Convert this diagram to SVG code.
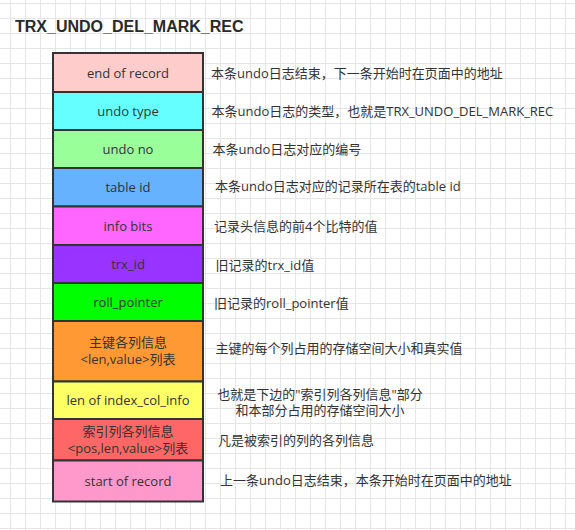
<svg xmlns="http://www.w3.org/2000/svg" width="575" height="530" viewBox="0 0 575 530">
<defs>
<pattern id="grid" patternUnits="userSpaceOnUse" x="10" y="3" width="15" height="15">
<path d="M0 0.5 H15 M0.5 0 V15" fill="none" stroke="#e6e6e6" stroke-width="1"/>
</pattern>
</defs>
<style>
text{font-family:"Open Sans","Noto Sans CJK SC",sans-serif;font-size:13px;fill:#333}
.lbl{text-anchor:middle}
.title{font-family:"Liberation Sans","Noto Sans CJK SC",sans-serif;font-size:16px;font-weight:bold;fill:#2a2a2a}
.cell{stroke:#333;stroke-width:2}
</style>
<rect width="575" height="530" fill="#fff"/>
<rect width="575" height="530" fill="url(#grid)"/>
<text class="title" x="15" y="32">TRX_UNDO_DEL_MARK_REC</text>
<g id="end-of-record"><rect class="cell" x="53" y="53" width="150" height="39" fill="#FFCCCC"/><text class="lbl" x="128" y="77.5">end of record</text></g>
<g id="undo-type"><rect class="cell" x="53" y="92" width="150" height="38" fill="#66FFFF"/><text class="lbl" x="128" y="115.5">undo type</text></g>
<g id="undo-no"><rect class="cell" x="53" y="130" width="150" height="38" fill="#99FF99"/><text class="lbl" x="128" y="153.5">undo no</text></g>
<g id="table-id"><rect class="cell" x="53" y="168" width="150" height="38.5" fill="#66B2FF"/><text class="lbl" x="128" y="191.5">table id</text></g>
<g id="info-bits"><rect class="cell" x="53" y="206.5" width="150" height="38.5" fill="#FF66FF"/><text class="lbl" x="128" y="230.5">info bits</text></g>
<g id="trx-id"><rect class="cell" x="53" y="245" width="150" height="38" fill="#9933FF"/><text class="lbl" x="128" y="269">trx_id</text></g>
<g id="roll-pointer"><rect class="cell" x="53" y="283" width="150" height="38" fill="#00FF00"/><text class="lbl" x="128" y="307">roll_pointer</text></g>
<g id="pk-cols"><rect class="cell" x="53" y="321" width="150" height="60.5" fill="#FF9933"/><text class="lbl" x="128" y="347">主键各列信息</text><text class="lbl" x="128" y="364">&lt;len,value&gt;列表</text></g>
<g id="len-index"><rect class="cell" x="53" y="381.5" width="150" height="37.5" fill="#FFFF66"/><text class="lbl" x="128" y="405">len of index_col_info</text></g>
<g id="index-cols"><rect class="cell" x="53" y="419" width="150" height="41.5" fill="#FF6666"/><text class="lbl" x="128" y="436">索引列各列信息</text><text class="lbl" x="128" y="453">&lt;pos,len,value&gt;列表</text></g>
<g id="start-of-record"><rect class="cell" x="53" y="460.5" width="150" height="41" fill="#FF99CC"/><text class="lbl" x="128" y="485.5">start of record</text></g>
<g id="notes">
<text x="211" y="78">本条undo日志结束，下一条开始时在页面中的地址</text>
<text x="211.5" y="116">本条undo日志的类型，也就是TRX_UNDO_DEL_MARK_REC</text>
<text x="212.5" y="154">本条undo日志对应的编号</text>
<text x="215" y="191">本条undo日志对应的记录所在表的table id</text>
<text x="214" y="230.5">记录头信息的前4个比特的值</text>
<text x="215.5" y="269.5">旧记录的trx_id值</text>
<text x="214" y="308">旧记录的roll_pointer值</text>
<text x="215.5" y="353">主键的每个列占用的存储空间大小和真实值</text>
<text x="320" y="398.5" text-anchor="middle">也就是下边的"索引列各列信息"部分</text>
<text x="320" y="415" text-anchor="middle">和本部分占用的存储空间大小</text>
<text x="218" y="444.5">凡是被索引的列的各列信息</text>
<text x="220" y="485">上一条undo日志结束，本条开始时在页面中的地址</text>
</g>
</svg>
